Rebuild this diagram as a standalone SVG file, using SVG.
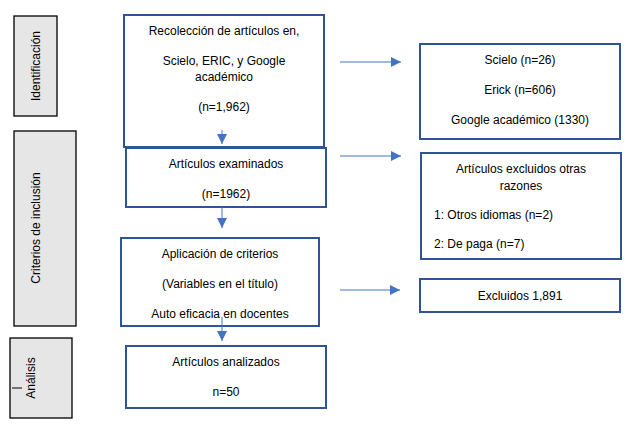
<svg xmlns="http://www.w3.org/2000/svg" width="640" height="425" viewBox="0 0 640 425">
<style>
.b{fill:#fff;stroke:#2F5597;stroke-width:2}
.g{fill:#e7e6e6;stroke:#000;stroke-width:1.3}
text{font-family:"Liberation Sans",Arial,sans-serif;font-size:12px;fill:#000}
.c{text-anchor:middle}
.l{stroke:#4472C4;stroke-width:1;fill:none}
</style>
<defs><marker id="a" viewBox="0 0 10 10" refX="10" refY="5" markerWidth="10" markerHeight="10" markerUnits="userSpaceOnUse" orient="auto"><path d="M0,0L10,5L0,10z" fill="#4472C4"/></marker></defs>
<rect width="640" height="425" fill="#fff"/>
<g id="phase1"><rect class="g" x="14" y="16" width="43" height="100"/><text class="c" transform="translate(40,66) rotate(-90)">Identificación</text></g>
<g id="phase2"><rect class="g" x="14" y="131" width="62" height="195"/><text class="c" transform="translate(40,228) rotate(-90)">Criterios de inclusión</text></g>
<g id="phase3"><rect class="g" x="10" y="338" width="62" height="80"/><text class="c" transform="translate(35,378) rotate(-90)">Análisis</text><line x1="12" y1="388" x2="22" y2="388" stroke="#000" stroke-width="1"/></g>
<g id="n1"><rect class="b" x="124" y="15" width="200" height="132"/>
<text class="c" x="224" y="35">Recolección de artículos en,</text>
<text class="c" x="224" y="65">Scielo, ERIC, y Google</text>
<text class="c" x="224" y="81">académico</text>
<text class="c" x="224" y="111">(n=1,962)</text></g>
<g id="n2"><rect class="b" x="126" y="148" width="200" height="59"/>
<text class="c" x="226" y="168">Artículos examinados</text>
<text class="c" x="226" y="198">(n=1962)</text></g>
<g id="n3"><rect class="b" x="121" y="238" width="198" height="88"/>
<text class="c" x="220" y="258">Aplicación de criterios</text>
<text class="c" x="220" y="288">(Variables en el título)</text>
<text class="c" x="220" y="318">Auto eficacia en docentes</text></g>
<g id="n4"><rect class="b" x="126" y="346" width="200" height="62"/>
<text class="c" x="226" y="366">Artículos analizados</text>
<text class="c" x="226" y="396">n=50</text></g>
<g id="r1"><rect class="b" x="420" y="44" width="200" height="95"/>
<text class="c" x="520" y="64">Scielo (n=26)</text>
<text class="c" x="520" y="94">Erick (n=606)</text>
<text class="c" x="520" y="124">Google académico (1330)</text></g>
<g id="r2"><rect class="b" x="421" y="153" width="200" height="106"/>
<text class="c" x="521" y="173">Artículos excluidos otras</text>
<text class="c" x="521" y="190">razones</text>
<text x="434" y="219">1: Otros idiomas (n=2)</text>
<text x="434" y="248">2: De paga (n=7)</text></g>
<g id="r3"><rect class="b" x="420" y="279" width="200" height="33"/>
<text class="c" x="520" y="300">Excluidos 1,891</text></g>
<g id="connectors">
<line class="l" x1="222" y1="130" x2="222" y2="144" marker-end="url(#a)"/>
<line class="l" x1="222" y1="207" x2="222" y2="228" marker-end="url(#a)"/>
<line class="l" x1="222" y1="317" x2="222" y2="341" marker-end="url(#a)"/>
<line class="l" x1="340" y1="62" x2="401" y2="62" marker-end="url(#a)"/>
<line class="l" x1="340" y1="156" x2="401" y2="156" marker-end="url(#a)"/>
<line class="l" x1="340" y1="290" x2="400" y2="290" marker-end="url(#a)"/>
</g>
</svg>
